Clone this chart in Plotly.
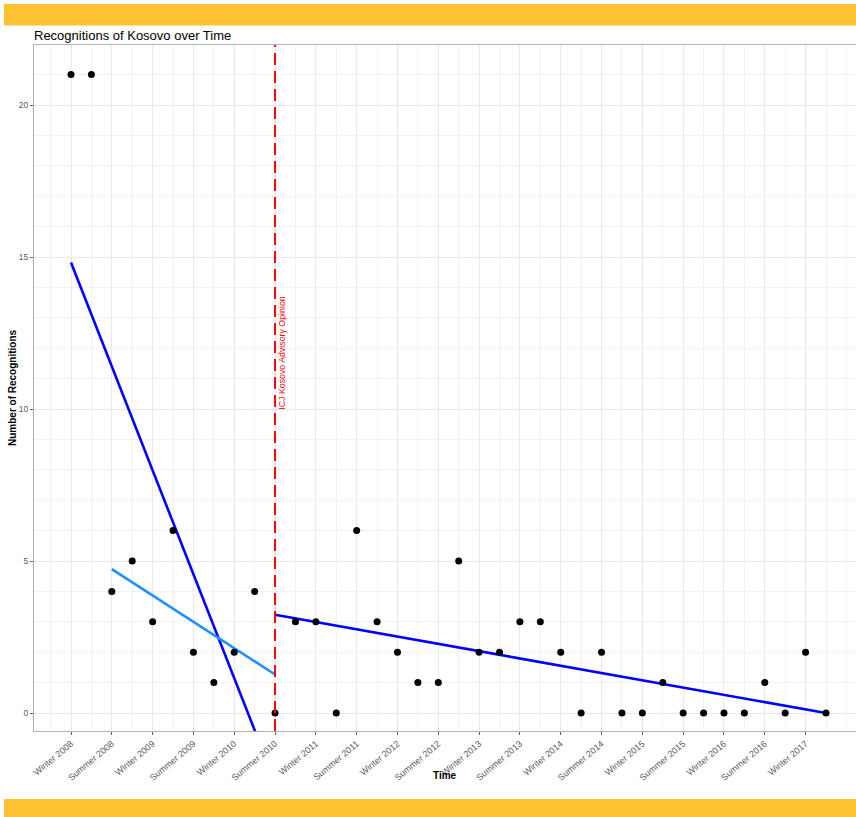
import numpy as np
import plotly.graph_objects as go

# Quarterly recognition counts (index 0 = Winter 2008)
period_index = list(range(38))
recognitions = [21, 21, 4, 5, 3, 6, 2, 1, 2, 4,
                0, 3, 3, 0, 6, 3, 2, 1, 1, 5,
                2, 2, 3, 3, 2, 0, 2, 0, 0, 1,
                0, 0, 0, 0, 1, 0, 2, 0]

tick_positions = list(range(0, 38, 2))
tick_labels = ["Winter 2008", "Summer 2008", "Winter 2009", "Summer 2009",
               "Winter 2010", "Summer 2010", "Winter 2011", "Summer 2011",
               "Winter 2012", "Summer 2012", "Winter 2013", "Summer 2013",
               "Winter 2014", "Summer 2014", "Winter 2015", "Summer 2015",
               "Winter 2016", "Summer 2016", "Winter 2017"]

icj_index = 10
icj_label = "ICJ Kosovo Advisory Opinion"

x = np.array(period_index, dtype=float)
y = np.array(recognitions, dtype=float)


def linear_fit(lo, hi, draw_lo=None, draw_hi=None):
    """Least-squares line fitted to periods lo..hi, evaluated on draw_lo..draw_hi."""
    m = (x >= lo) & (x <= hi)
    slope, intercept = np.polyfit(x[m], y[m], 1)
    xs = np.array([lo if draw_lo is None else draw_lo,
                   hi if draw_hi is None else draw_hi], dtype=float)
    return xs, slope * xs + intercept


pre_all_x, pre_all_y = linear_fit(0, 10)
pre_late_x, pre_late_y = linear_fit(2, 10)
post_x, post_y = linear_fit(11, 37, draw_lo=10, draw_hi=37)

FONT = "Liberation Sans, Arial, Helvetica, sans-serif"
W, H = 856, 817
L, R, T, B = 34, 0, 45, 86
pw, ph = W - L - R, H - T - B

fig = go.Figure()

fig.add_trace(go.Scatter(x=pre_all_x, y=pre_all_y, mode="lines",
                         line=dict(color="#0000ff", width=2.6),
                         hoverinfo="skip", showlegend=False))
fig.add_trace(go.Scatter(x=pre_late_x, y=pre_late_y, mode="lines",
                         line=dict(color="#1e90ff", width=2.6),
                         hoverinfo="skip", showlegend=False))
fig.add_trace(go.Scatter(x=post_x, y=post_y, mode="lines",
                         line=dict(color="#0000ff", width=2.6),
                         hoverinfo="skip", showlegend=False))

fig.add_trace(go.Scatter(x=period_index, y=recognitions, mode="markers",
                         marker=dict(color="black", size=7),
                         showlegend=False))

# ICJ advisory opinion marker line
fig.add_shape(type="line", xref="x", yref="paper", x0=icj_index, x1=icj_index,
              y0=0, y1=1, line=dict(color="#ff0000", width=2, dash="12px,6px"),
              layer="above")

# Yellow header and footer bands
def px_x(px):
    return (px - L) / pw


def px_y(py):
    return (H - B - py) / ph


band = "#fcc232"
fig.add_shape(type="rect", xref="paper", yref="paper",
              x0=px_x(4), x1=px_x(W + 2), y0=px_y(25.5), y1=px_y(4),
              fillcolor=band, line=dict(width=0), layer="below")
fig.add_shape(type="rect", xref="paper", yref="paper",
              x0=px_x(4), x1=px_x(W + 2), y0=px_y(H + 2), y1=px_y(799),
              fillcolor=band, line=dict(width=0), layer="below")

fig.add_annotation(x=icj_index + 0.34, y=11.85, xref="x", yref="y",
                   text=icj_label, textangle=-90, showarrow=False,
                   font=dict(family=FONT, size=8.8, color="#ff0000"),
                   xanchor="center", yanchor="middle")

# Axis titles
fig.add_annotation(x=px_x(445), y=px_y(775), xref="paper", yref="paper",
                   text="<b>Time</b>", showarrow=False,
                   font=dict(family=FONT, size=10, color="black"),
                   xanchor="center", yanchor="middle")
fig.add_annotation(x=px_x(12), y=0.5, xref="paper", yref="paper",
                   text="<b>Number of Recognitions</b>", textangle=-90,
                   showarrow=False,
                   font=dict(family=FONT, size=10, color="black"),
                   xanchor="center", yanchor="middle")

dx = (826 - 71) / 37.0
x_lo = (L - 71) / dx
x_hi = (W - 71) / dx
y_per = (713 - 561) / 5.0
y_lo = -(731 - 713) / y_per
y_hi = (713 - 45) / y_per

fig.update_layout(
    width=W, height=H,
    margin=dict(l=L, r=R, t=T, b=B, pad=0),
    paper_bgcolor="white", plot_bgcolor="white",
    title=dict(text="Recognitions of Kosovo over Time", x=px_x(34), xref="paper",
               xanchor="left", y=1 - 35 / H, yref="container", yanchor="middle",
               font=dict(family=FONT, size=13, color="black")),
    xaxis=dict(range=[x_lo, x_hi], tickvals=tick_positions, ticktext=tick_labels,
               tickangle=-40, tickfont=dict(family=FONT, size=9, color="#5a5a5a"),
               ticks="outside", ticklen=3, tickcolor="#666666", tickwidth=1,
               showgrid=True, gridcolor="#e8e8e8", gridwidth=0.8,
               minor=dict(dtick=1, tick0=0, showgrid=True, gridcolor="#f2f2f2",
                          gridwidth=0.6, ticks=""),
               showline=True, linecolor="#b3b3b3", linewidth=1.2, mirror=True,
               zeroline=False),
    yaxis=dict(range=[y_lo, y_hi], tickvals=[0, 5, 10, 15, 20],
               tickfont=dict(family=FONT, size=8.5, color="#5a5a5a"),
               ticks="outside", ticklen=3, tickcolor="#666666", tickwidth=1,
               showgrid=True, gridcolor="#e8e8e8", gridwidth=0.8,
               minor=dict(dtick=1, tick0=0, showgrid=True, gridcolor="#f2f2f2",
                          gridwidth=0.6, ticks=""),
               showline=True, linecolor="#b3b3b3", linewidth=1.2,
               zeroline=False),
)

fig.write_html("out.html")
